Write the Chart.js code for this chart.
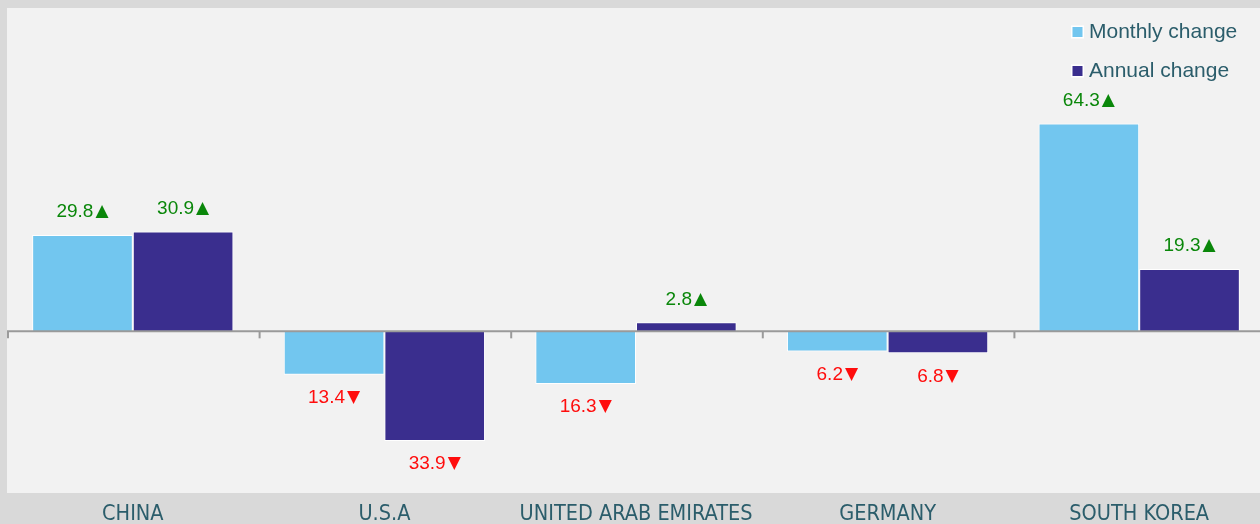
<!DOCTYPE html>
<html>
<head>
<meta charset="utf-8">
<script src="https://cdn.jsdelivr.net/npm/chart.js@4.4.1/dist/chart.umd.min.js"></script>
<style>
  html, body { margin: 0; padding: 0; background: #d9d9d9; overflow: hidden; width: 1260px; height: 524px; }
  #wrap { position: absolute; left: 0; top: 0; width: 1266px; height: 524px; }
</style>
</head>
<body>
<div id="wrap"><canvas id="c" width="1266" height="524"></canvas></div>
<script>
const categories = ['CHINA', 'U.S.A', 'UNITED ARAB EMIRATES', 'GERMANY', 'SOUTH KOREA'];
const seriesNames = ['Monthly change', 'Annual change'];
const monthlyChange = [29.8, -13.4, -16.3, -6.2, 64.3];
const annualChange = [30.9, -33.9, 2.8, -6.8, 19.3];
const yMin = -50;
const yMax = 100;

const COLORS = ['#72c6ef', '#3a2e8e'];
const TEXT_COLOR = '#2b5d6b';
const LABEL_FONT = "'Liberation Sans', Arial, 'DejaVu Sans', sans-serif";
const ARROW_FONT = "'DejaVu Sans', sans-serif";
const AXIS_FONT = "'Liberation Sans Narrow', 'DejaVu Sans Condensed', 'Liberation Sans', sans-serif";

const bgPlugin = {
  id: 'bg',
  beforeDraw(chart) {
    const { ctx, chartArea: a } = chart;
    ctx.save();
    ctx.fillStyle = '#f2f2f2';
    ctx.fillRect(a.left, a.top, a.right - a.left, a.bottom - a.top);
    ctx.restore();
  }
};

const zeroLinePlugin = {
  id: 'zeroLine',
  afterDatasetsDraw(chart) {
    const { ctx, chartArea: a, scales } = chart;
    const y0 = scales.y.getPixelForValue(0);
    ctx.save();
    ctx.strokeStyle = '#9a9a9a';
    ctx.lineWidth = 2;
    ctx.beginPath();
    ctx.moveTo(a.left, y0);
    ctx.lineTo(a.right, y0);
    ctx.stroke();
    const n = categories.length;
    const step = scales.x.getPixelForValue(1) - scales.x.getPixelForValue(0);
    for (let i = 0; i <= n; i++) {
      let x;
      if (i === 0) x = scales.x.getPixelForValue(0) - step / 2;
      else if (i === n) x = scales.x.getPixelForValue(n - 1) + step / 2;
      else x = (scales.x.getPixelForValue(i - 1) + scales.x.getPixelForValue(i)) / 2;
      ctx.beginPath();
      ctx.moveTo(x + 1, y0);
      ctx.lineTo(x + 1, y0 + 7);
      ctx.stroke();
    }
    ctx.restore();
  }
};

const valueLabelPlugin = {
  id: 'valueLabels',
  afterDatasetsDraw(chart) {
    const { ctx } = chart;
    ctx.save();
    ctx.textBaseline = 'middle';
    ctx.textAlign = 'left';
    const numFont = '19px ' + LABEL_FONT;
    const arrFont = '17px ' + ARROW_FONT;
    chart.data.datasets.forEach((ds, di) => {
      const meta = chart.getDatasetMeta(di);
      meta.data.forEach((bar, i) => {
        const v = ds.data[i];
        const num = Math.abs(v).toFixed(1);
        const arr = v >= 0 ? '\u25B2' : '\u25BC';
        ctx.font = numFont;
        const w1 = ctx.measureText(num).width;
        ctx.font = arrFont;
        const w2 = ctx.measureText(arr).width;
        const gap = 2;
        const total = w1 + gap + w2;
        const x0 = bar.x - total / 2;
        const y = v >= 0 ? bar.y - 23 : bar.y + 23;
        ctx.fillStyle = v >= 0 ? '#0a870a' : '#ff0d0d';
        ctx.font = numFont;
        ctx.fillText(num, x0, y);
        ctx.font = arrFont;
        ctx.fillText(arr, x0 + w1 + gap, y);
      });
    });
    ctx.restore();
  }
};

const legendPlugin = {
  id: 'customLegend',
  afterDraw(chart) {
    const { ctx } = chart;
    ctx.save();
    ctx.font = '21px ' + LABEL_FONT;
    ctx.textBaseline = 'middle';
    ctx.textAlign = 'left';
    const ys = [32, 71];
    chart.data.datasets.forEach((ds, i) => {
      const y = ys[i];
      ctx.fillStyle = '#ffffff';
      ctx.fillRect(1071, y - 6.5, 13, 13);
      ctx.fillStyle = ds.backgroundColor;
      ctx.fillRect(1072.5, y - 5, 10, 10);
      ctx.fillStyle = TEXT_COLOR;
      ctx.fillText(ds.label, 1089, y);
    });
    ctx.restore();
  }
};

new Chart(document.getElementById('c'), {
  type: 'bar',
  data: {
    labels: categories,
    datasets: [
      { label: seriesNames[0], data: monthlyChange, backgroundColor: COLORS[0] },
      { label: seriesNames[1], data: annualChange, backgroundColor: COLORS[1] }
    ]
  },
  options: {
    responsive: false,
    animation: false,
    devicePixelRatio: 1,
    layout: { padding: { left: 7, top: 8, right: 1, bottom: 0 } },
    datasets: {
      bar: {
        categoryPercentage: 0.8,
        barPercentage: 1.0,
        borderColor: '#ffffff',
        borderWidth: 1
      }
    },
    plugins: {
      legend: { display: false },
      tooltip: { enabled: false }
    },
    scales: {
      x: {
        grid: { display: false, drawTicks: false },
        border: { display: false },
        ticks: {
          color: TEXT_COLOR,
          font: { family: AXIS_FONT, size: 21.5 },
          padding: 9,
          maxRotation: 0,
          autoSkip: false
        },
        afterFit(axis) { axis.height = 31; }
      },
      y: {
        display: false,
        min: yMin,
        max: yMax
      }
    }
  },
  plugins: [bgPlugin, zeroLinePlugin, valueLabelPlugin, legendPlugin]
});
</script>
</body>
</html>
